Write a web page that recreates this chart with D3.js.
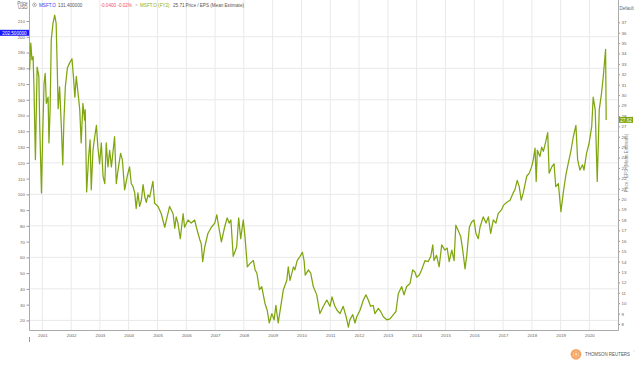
<!DOCTYPE html>
<html>
<head>
<meta charset="utf-8">
<script src="https://cdn.jsdelivr.net/npm/d3@7"></script>
<style>
  html, body { margin: 0; padding: 0; background: #fff; }
  svg { display: block; font-family: "Liberation Sans", Arial, sans-serif; }
</style>
</head>
<body>
<div id="chart"></div>
<script>
// MSFT.O (FY2) Price / EPS (Mean Estimate)
// dates are decimal years, values are on the right (P/E) axis
const years = [
  2000.56, 2000.60, 2000.64, 2000.68, 2000.71, 2000.76, 2000.82, 2000.88, 2000.91, 2000.97,
  2001.01, 2001.06, 2001.10, 2001.14, 2001.20, 2001.23, 2001.27, 2001.31, 2001.37, 2001.43,
  2001.48, 2001.52, 2001.55, 2001.60, 2001.66, 2001.71, 2001.75, 2001.80, 2001.87, 2001.95,
  2002.03, 2002.08, 2002.13, 2002.18, 2002.24, 2002.30, 2002.35, 2002.41, 2002.47, 2002.49,
  2002.54, 2002.61, 2002.66, 2002.70, 2002.76, 2002.82, 2002.88, 2002.93, 2002.99,
  2003.05, 2003.11, 2003.17, 2003.22, 2003.28, 2003.34, 2003.40, 2003.45, 2003.51, 2003.57,
  2003.63, 2003.72, 2003.78, 2003.86, 2003.95,
  2004.03, 2004.09, 2004.15, 2004.21, 2004.26, 2004.32, 2004.38, 2004.44, 2004.50, 2004.56,
  2004.61, 2004.67, 2004.73, 2004.78, 2004.84, 2004.90,
  2005.02, 2005.13, 2005.25, 2005.31, 2005.42, 2005.54, 2005.60, 2005.65, 2005.71, 2005.79, 2005.89, 2005.94,
  2006.06, 2006.17, 2006.29, 2006.35, 2006.41, 2006.47, 2006.52, 2006.57, 2006.64, 2006.75, 2006.87, 2006.99,
  2007.06, 2007.13, 2007.22, 2007.33, 2007.42, 2007.49, 2007.55, 2007.63, 2007.75, 2007.82, 2007.89, 2007.98,
  2008.04, 2008.12, 2008.21, 2008.33, 2008.39, 2008.45, 2008.54, 2008.62, 2008.73, 2008.81, 2008.88, 2008.97,
  2009.05, 2009.11, 2009.19, 2009.28, 2009.37, 2009.49, 2009.54, 2009.60, 2009.72, 2009.77, 2009.85, 2009.95,
  2010.03, 2010.09, 2010.13, 2010.24, 2010.32, 2010.41, 2010.53, 2010.64, 2010.76, 2010.88, 2010.99,
  2011.06, 2011.16, 2011.24, 2011.34, 2011.45, 2011.55, 2011.63, 2011.68, 2011.78, 2011.86, 2011.92,
  2012.03, 2012.15, 2012.24, 2012.32, 2012.40, 2012.49, 2012.55, 2012.67, 2012.75, 2012.84, 2012.96,
  2013.07, 2013.19, 2013.28, 2013.36, 2013.48, 2013.56, 2013.65, 2013.77, 2013.86, 2013.94,
  2014.00, 2014.09, 2014.17, 2014.29, 2014.40, 2014.49, 2014.56, 2014.60, 2014.69, 2014.78, 2014.87, 2014.98,
  2015.06, 2015.13, 2015.22, 2015.30, 2015.36, 2015.44, 2015.53, 2015.60, 2015.68, 2015.74, 2015.83, 2015.91, 2015.99,
  2016.06, 2016.14, 2016.20, 2016.31, 2016.41, 2016.49, 2016.57, 2016.66, 2016.75, 2016.83, 2016.95,
  2017.01, 2017.13, 2017.24, 2017.35, 2017.41, 2017.49, 2017.56, 2017.63, 2017.70, 2017.82, 2017.91, 2017.99,
  2018.05, 2018.11, 2018.15, 2018.19, 2018.28, 2018.34, 2018.40, 2018.48, 2018.55, 2018.60, 2018.69, 2018.77, 2018.83, 2018.92,
  2019.01, 2019.09, 2019.18, 2019.26, 2019.36, 2019.44, 2019.53, 2019.59, 2019.67, 2019.76, 2019.81, 2019.90, 2019.99,
  2020.08, 2020.13, 2020.20, 2020.27, 2020.34, 2020.42, 2020.48, 2020.56, 2020.58
];
const peValues = [
  32.4, 35.0, 33.4, 33.7, 30.8, 23.8, 32.7, 31.8, 27.0, 20.6,
  26.0, 31.1, 32.1, 29.2, 29.8, 25.4, 28.6, 35.3, 36.9, 37.7,
  36.9, 32.4, 28.7, 30.8, 27.0, 23.3, 27.6, 30.8, 32.6, 33.1,
  33.5, 31.8, 29.8, 31.8, 30.2, 28.6, 25.4, 29.2, 27.6, 28.6,
  20.7, 24.1, 25.7, 20.9, 24.7, 26.0, 27.1, 25.0, 23.4,
  25.4, 22.2, 21.5, 25.4, 23.1, 24.7, 23.1, 24.4, 26.0, 21.5,
  22.8, 24.4, 23.8, 20.9, 22.2,
  23.1, 21.5, 21.2, 20.6, 19.1, 20.6, 19.3, 19.9, 21.4, 20.2,
  19.7, 20.4, 20.2, 20.9, 21.7, 19.6,
  19.3, 18.6, 17.3, 18.0, 19.3, 18.6, 17.2, 18.3, 17.7, 16.2, 18.6, 17.3,
  18.0, 17.7, 18.0, 17.3, 16.7, 16.1, 15.7, 14.0, 15.4, 16.7, 17.3, 17.7,
  18.5, 17.3, 15.9, 17.3, 18.2, 17.7, 18.0, 14.5, 15.4, 18.2, 16.2, 18.0,
  16.4, 13.5, 13.8, 14.1, 13.2, 12.9, 11.3, 11.6, 10.0, 9.3, 8.1, 9.0,
  8.4, 9.8, 8.1, 9.7, 11.3, 12.2, 13.5, 12.2, 13.5, 13.2, 14.1, 14.5,
  14.9, 14.1, 12.7, 13.2, 12.9, 11.6, 10.8, 9.0, 9.7, 10.3, 9.7,
  10.6, 9.7, 9.3, 9.0, 9.7, 8.7, 7.7, 8.4, 8.9, 8.1, 8.7,
  9.3, 10.3, 10.8, 10.3, 9.7, 9.8, 9.0, 9.5, 9.2, 8.7, 8.4,
  8.5, 8.9, 9.2, 10.9, 11.6, 10.8, 11.6, 11.9, 13.2, 13.0,
  12.5, 12.7, 13.2, 14.1, 14.0, 14.5, 15.6, 14.1, 14.6, 13.5, 15.6, 15.1,
  15.3, 14.0, 15.1, 14.1, 17.5, 17.0, 16.4, 15.1, 13.3, 14.6, 17.3, 17.8, 18.0,
  16.7, 16.2, 17.3, 18.3, 17.7, 18.3, 16.7, 18.0, 17.7, 18.6, 19.0,
  19.4, 19.7, 19.9, 20.6, 20.9, 21.8, 21.2, 19.9, 20.6, 22.2, 22.5, 23.1,
  23.8, 24.9, 21.7, 24.7, 24.1, 25.0, 24.6, 25.5, 26.4, 22.5, 23.1, 23.4, 21.2, 21.5,
  18.8, 20.6, 22.3, 23.4, 24.7, 26.0, 27.1, 23.8, 22.8, 23.3, 22.8, 24.4, 25.4,
  27.0, 29.8, 28.6, 21.7, 28.6, 30.2, 31.8, 34.4, 27.62
];
const priceTicks = d3.range(20, 211, 10);
const priceGrid = d3.range(20, 201, 20);
const peTicks = d3.range(8, 38, 1);
const yearTicks = d3.range(2001, 2021);
const lastPrice = 202.5;
const lastPE = 27.62;

const W = 640, H = 366;
const L = 29, R = 618, T = 0, B = 330;
const GREEN = '#7fa60e';

// decimal year -> Date
function dec(y) {
  const yr = Math.floor(y);
  const a = Date.UTC(yr, 0, 1), b = Date.UTC(yr + 1, 0, 1);
  return new Date(a + (y - yr) * (b - a));
}

const svg = d3.select('#chart').append('svg')
  .attr('width', W).attr('height', H);

const x = d3.scaleUtc().domain([dec(2000.538), dec(2020.99)]).range([L, R]);
const yL = d3.scaleLinear().domain([20, 210]).range([320.4, 21]);
const yR = d3.scaleLinear().domain([8, 37]).range([324, 22.3]);

/* ── grid ── */
svg.append('g').selectAll('line').data(yearTicks).join('line')
  .attr('x1', d => x(dec(d))).attr('x2', d => x(dec(d)))
  .attr('y1', T).attr('y2', B)
  .attr('stroke', '#e9e9e9').attr('stroke-width', 1);
svg.append('g').selectAll('line').data(priceGrid).join('line')
  .attr('x1', L).attr('x2', R)
  .attr('y1', d => yL(d)).attr('y2', d => yL(d))
  .attr('stroke', '#e9e9e9').attr('stroke-width', 1);

/* ── axes ── */
const tickStyle = g => {
  g.select('.domain').remove();
  g.selectAll('.tick line').attr('stroke', '#999');
  g.selectAll('.tick text').attr('fill', '#666').attr('font-size', 4.4)
    .attr('font-family', '"Liberation Sans", Arial, sans-serif');
};

svg.append('g').attr('transform', `translate(${L},0)`)
  .call(d3.axisLeft(yL).tickValues(priceTicks).tickSize(2.5).tickPadding(1.5))
  .call(tickStyle);

svg.append('g').attr('transform', `translate(${R},0)`)
  .call(d3.axisRight(yR).tickValues(peTicks).tickSize(2).tickPadding(1.5))
  .call(tickStyle);

svg.append('g').attr('transform', `translate(0,${B})`)
  .call(d3.axisBottom(x).tickValues(yearTicks.map(dec)).tickSize(0).tickPadding(4)
    .tickFormat(d3.utcFormat('%Y')))
  .call(tickStyle);

// frame lines
svg.append('path')
  .attr('d', `M${L + 0.5},${T}V${B + 0.5}H${R + 0.5}V${T}`)
  .attr('fill', 'none').attr('stroke', '#aaa').attr('stroke-width', 1);
svg.append('line')
  .attr('x1', L + 0.5).attr('x2', L + 0.5).attr('y1', 337).attr('y2', 342)
  .attr('stroke', '#999');

/* ── series ── */
const line = d3.line()
  .x((d, i) => x(dec(years[i])))
  .y(d => yR(d));
svg.append('path')
  .datum(peValues)
  .attr('d', line)
  .attr('fill', 'none')
  .attr('stroke', GREEN)
  .attr('stroke-width', 1.25)
  .attr('stroke-linejoin', 'round');

/* ── axis labels ── */
const txt = (xx, yy, s, opt = {}) => svg.append('text')
  .attr('x', xx).attr('y', yy)
  .attr('font-size', opt.size || 4.5)
  .attr('fill', opt.fill || '#666')
  .attr('text-anchor', opt.anchor || 'start')
  .text(s);

txt(27.5, 4.6, 'Price', { anchor: 'end' });
txt(27.5, 9.4, 'USD', { anchor: 'end' });
txt(619.5, 10, 'Default');

svg.append('text')
  .attr('transform', `translate(628,163) rotate(-90)`)
  .attr('text-anchor', 'middle')
  .attr('font-size', 4.6).attr('fill', '#888')
  .text('Price / EPS (Mean Estimate)');

// last value flags
const yp = yL(lastPrice);
svg.append('rect').attr('x', 0).attr('y', yp - 3).attr('width', L).attr('height', 6)
  .attr('fill', '#1a1aff');
txt(L / 2, yp + 1.7, d3.format('.6f')(lastPrice), { anchor: 'middle', fill: '#fff', size: 4.6 });

const ye = yR(lastPE);
svg.append('rect').attr('x', R + 1).attr('y', ye - 3).attr('width', 14).attr('height', 6)
  .attr('fill', GREEN);
txt(R + 8, ye + 1.7, lastPE.toFixed(2), { anchor: 'middle', fill: '#fff', size: 4.6 });

/* ── legend ── */
svg.append('circle').attr('cx', 34.5).attr('cy', 4.8).attr('r', 1.9)
  .attr('fill', 'none').attr('stroke', '#888').attr('stroke-width', 0.6);
svg.append('circle').attr('cx', 34.5).attr('cy', 4.8).attr('r', 0.7).attr('fill', '#888');
txt(39, 6.8, 'MSFT.O', { fill: '#3b3bf0', size: 4.6 });
txt(58, 6.8, '131.400000', { fill: '#555', size: 4.6 });
txt(100.5, 6.8, '-0.0400  -0.02%', { fill: '#f0506e', size: 4.6 });
svg.append('line').attr('x1', 135.5).attr('x2', 137.5).attr('y1', 5).attr('y2', 5)
  .attr('stroke', '#888').attr('stroke-width', 0.6);
txt(140, 6.8, 'MSFT.O (FY2)', { fill: '#8db021', size: 4.6 });
txt(173, 6.8, '25.71', { fill: '#555', size: 4.6 });
txt(185.5, 6.8, 'Price / EPS (Mean Estimate)', { fill: '#555', size: 4.6 });

/* ── Thomson Reuters mark ── */
const logo = svg.append('g').attr('transform', 'translate(576,354.3)');
logo.append('circle').attr('r', 5.4).attr('fill', '#f6a766');
[[0, 0, 1.1], [0, -2.7, 0.6], [2.4, -1.3, 0.6], [2.4, 1.3, 0.6], [0, 2.7, 0.6],
 [-2.4, 1.3, 0.6], [-2.4, -1.3, 0.6]].forEach(([cx, cy, r]) => {
  logo.append('circle').attr('cx', cx).attr('cy', cy).attr('r', r).attr('fill', '#fde5cf');
});
svg.append('text')
  .attr('x', 585).attr('y', 356.3)
  .attr('font-size', 4.9).attr('fill', '#555')
  .attr('textLength', 45).attr('lengthAdjust', 'spacingAndGlyphs')
  .text('THOMSON REUTERS');
txt(633, 352.3, '®', { size: 2.5, fill: '#777' });
</script>
</body>
</html>
